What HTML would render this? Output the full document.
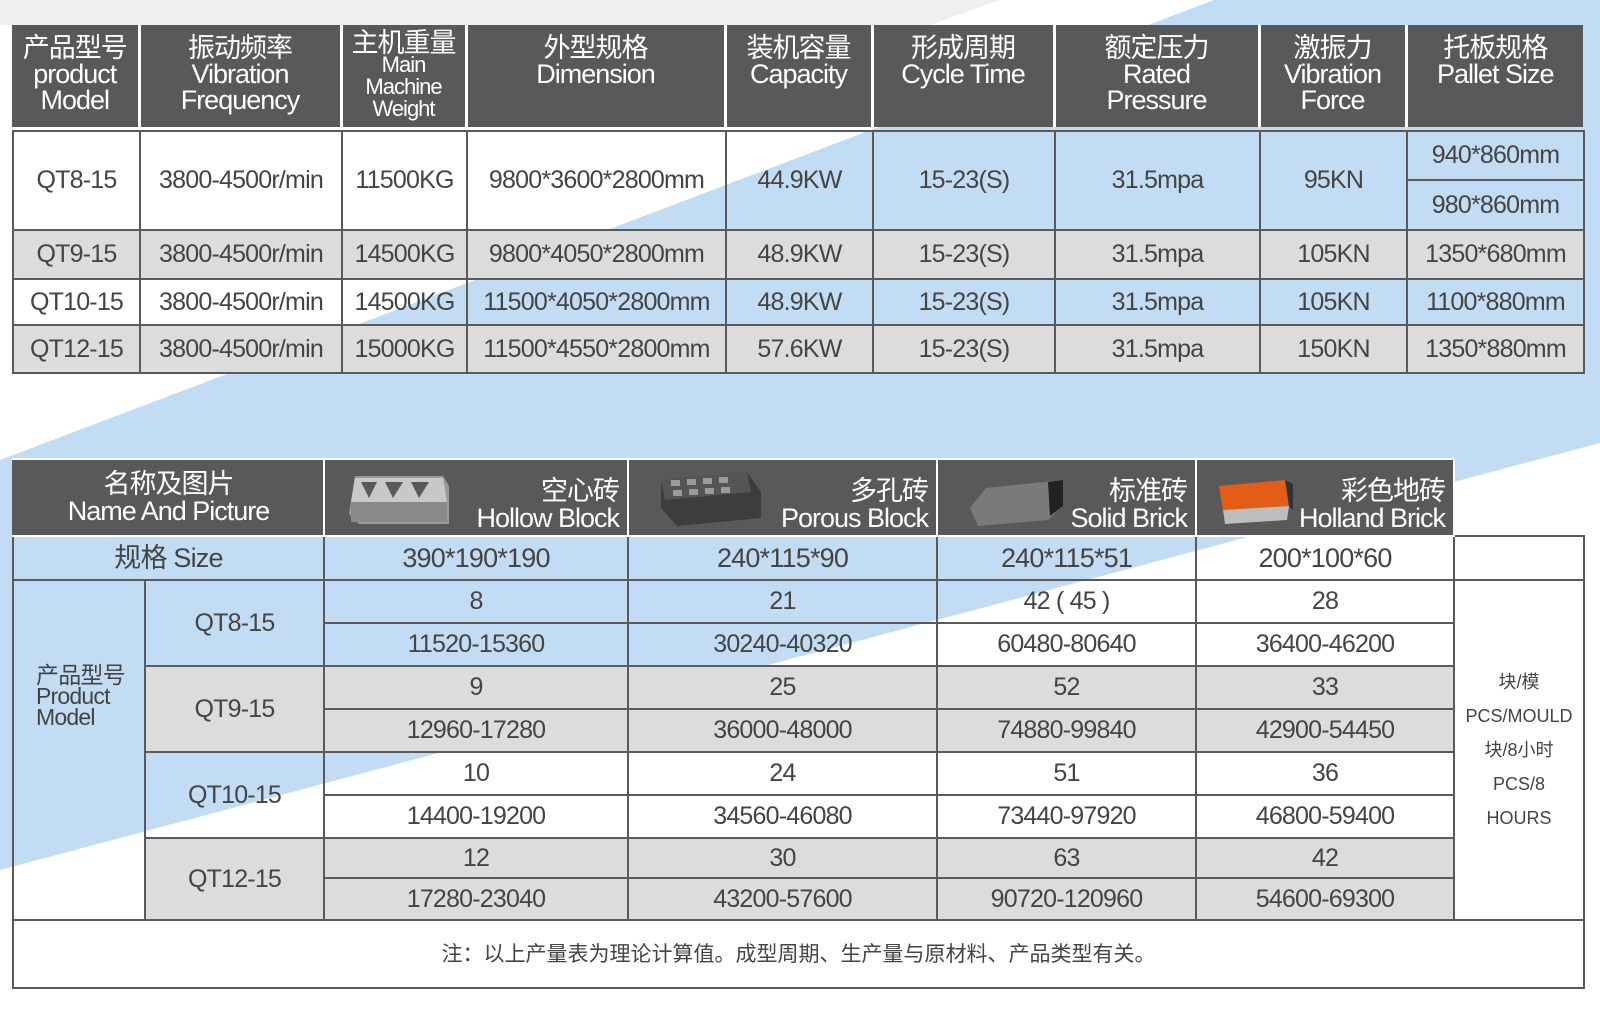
<!DOCTYPE html>
<html><head><meta charset="utf-8">
<style>
*{margin:0;padding:0;box-sizing:border-box}
body{width:1600px;height:1012px;position:relative;overflow:hidden;background:#fff;font-family:"Liberation Sans","Noto Sans CJK SC",sans-serif;color:#444}
svg.bg{position:absolute;left:0;top:0}
table{position:absolute;border-collapse:collapse;table-layout:fixed}
td{border:2px solid #5a5a5a;text-align:center;vertical-align:middle;font-size:25px;line-height:1;white-space:nowrap;overflow:hidden;letter-spacing:-0.8px}
.h td{background:#59595b;color:#fff;font-size:27px;line-height:26px;vertical-align:top;padding-top:10px;border-color:#fff;border-width:0 3px;letter-spacing:-1px}
.g{background:#dcdcdc}
.bh td{background:#59595b;color:#fff;border:2px solid #fff;position:relative;font-size:27px;line-height:27px;letter-spacing:-1px}
.bh td.ic{text-align:right;padding-right:8px;vertical-align:bottom;padding-bottom:3px}
.unit{font-size:18px;line-height:34px;letter-spacing:0;color:#444}
</style></head><body>
<svg class="bg" width="1600" height="1012">
<rect width="1600" height="1012" fill="#fff"/>
<polygon points="0,0 1000,0 930,25 0,25" fill="#efefef"/>
<polygon points="1214,0 1600,0 1600,443 0,870 0,460" fill="#c2ddf3"/>
</svg>

<table class="h" style="left:12px;top:25px;width:1571px;height:102px">
<colgroup><col style="width:127px"><col style="width:202px"><col style="width:125px"><col style="width:259px"><col style="width:147px"><col style="width:182px"><col style="width:205px"><col style="width:147px"><col style="width:177px"></colgroup>
<tr>
<td style="border-left:0">产品型号<br>product<br>Model</td>
<td>振动频率<br>Vibration<br>Frequency</td>
<td style="line-height:20px;padding-top:8px">主机重量<br><span style="font-size:22px">Main<br>Machine<br>Weight</span></td>
<td>外型规格<br>Dimension</td>
<td>装机容量<br>Capacity</td>
<td>形成周期<br>Cycle Time</td>
<td>额定压力<br>Rated<br>Pressure</td>
<td>激振力<br>Vibration<br>Force</td>
<td style="border-right:0">托板规格<br>Pallet Size</td>
</tr></table>

<table style="left:12px;top:130px;width:1571px">
<colgroup><col style="width:127px"><col style="width:202px"><col style="width:125px"><col style="width:259px"><col style="width:147px"><col style="width:182px"><col style="width:205px"><col style="width:147px"><col style="width:177px"></colgroup>
<tr style="height:49px"><td rowspan="2">QT8-15</td><td rowspan="2">3800-4500r/min</td><td rowspan="2">11500KG</td><td rowspan="2">9800*3600*2800mm</td><td rowspan="2">44.9KW</td><td rowspan="2">15-23(S)</td><td rowspan="2">31.5mpa</td><td rowspan="2">95KN</td><td>940*860mm</td></tr>
<tr style="height:50px"><td>980*860mm</td></tr>
<tr style="height:49px" class="g"><td>QT9-15</td><td>3800-4500r/min</td><td>14500KG</td><td>9800*4050*2800mm</td><td>48.9KW</td><td>15-23(S)</td><td>31.5mpa</td><td>105KN</td><td>1350*680mm</td></tr>
<tr style="height:46px"><td>QT10-15</td><td>3800-4500r/min</td><td>14500KG</td><td>11500*4050*2800mm</td><td>48.9KW</td><td>15-23(S)</td><td>31.5mpa</td><td>105KN</td><td>1100*880mm</td></tr>
<tr style="height:48px" class="g"><td>QT12-15</td><td>3800-4500r/min</td><td>15000KG</td><td>11500*4550*2800mm</td><td>57.6KW</td><td>15-23(S)</td><td>31.5mpa</td><td>150KN</td><td>1350*880mm</td></tr>
</table>

<table style="left:12px;top:458px;width:1571px">
<colgroup><col style="width:132px"><col style="width:179px"><col style="width:304px"><col style="width:309px"><col style="width:259px"><col style="width:258px"><col style="width:130px"></colgroup>
<tr class="bh" style="height:77px">
<td colspan="2" style="border-left:2px solid #5a5a5a">名称及图片<br>Name And Picture</td>
<td class="ic"><svg style="position:absolute;left:22px;top:14px" width="105" height="55"><polygon points="8,2 96,2 102,12 102,50 12,50 2,40" fill="#9a9a9a"/><polygon points="8,4 96,4 100,28 4,28" fill="#c8c8c8"/><polygon points="14,8 30,8 22,24" fill="#59595b"/><polygon points="38,8 56,8 46,24" fill="#59595b"/><polygon points="64,8 82,8 72,24" fill="#59595b"/><rect x="4" y="28" width="96" height="20" fill="#8a8a8a"/></svg>空心砖<br>Hollow Block</td>
<td class="ic"><svg style="position:absolute;left:30px;top:10px" width="105" height="58"><polygon points="2,10 88,2 102,22 102,48 18,56 2,38" fill="#3d3d3d"/><polygon points="2,10 88,2 92,22 6,30" fill="#555"/><g fill="#9a9a9a"><rect x="12" y="10" width="9" height="6"/><rect x="28" y="9" width="9" height="6"/><rect x="44" y="8" width="9" height="6"/><rect x="60" y="7" width="9" height="6"/><rect x="14" y="20" width="9" height="6"/><rect x="30" y="19" width="9" height="6"/><rect x="46" y="18" width="9" height="6"/><rect x="62" y="17" width="9" height="6"/></g></svg>多孔砖<br>Porous Block</td>
<td class="ic"><svg style="position:absolute;left:30px;top:18px" width="105" height="50"><polygon points="2,30 18,10 95,2 95,28 80,42 10,48" fill="#7a7a7a"/><polygon points="80,4 95,2 95,28 82,38" fill="#222"/></svg>标准砖<br>Solid Brick</td>
<td class="ic"><svg style="position:absolute;left:18px;top:16px" width="80" height="50"><polygon points="4,10 70,4 74,30 8,34" fill="#e35d17"/><polygon points="8,34 74,30 72,44 10,48" fill="#bdbdbd"/><polygon points="70,4 78,8 78,34 74,30" fill="#333"/></svg>彩色地砖<br>Holland Brick</td>
<td style="background:transparent;border:0"></td>
</tr>
<tr style="height:44px"><td colspan="2" style="font-size:27px">规格 Size</td><td style="font-size:27px">390*190*190</td><td style="font-size:27px">240*115*90</td><td style="font-size:27px">240*115*51</td><td style="font-size:27px">200*100*60</td><td style="border-right:2px solid #5a5a5a"></td></tr>
<tr style="height:43px"><td rowspan="8" style="font-size:23px;line-height:21px;text-align:left;padding-left:22px;vertical-align:top;padding-top:84px">产品型号<br>Product<br>Model</td><td rowspan="2">QT8-15</td><td>8</td><td>21</td><td>42 ( 45 )</td><td>28</td><td rowspan="8" class="unit" style="border-right:2px solid #5a5a5a">块/模<br>PCS/MOULD<br>块/8小时<br>PCS/8<br>HOURS</td></tr>
<tr style="height:43px"><td>11520-15360</td><td>30240-40320</td><td>60480-80640</td><td>36400-46200</td></tr>
<tr style="height:43px" class="g"><td rowspan="2">QT9-15</td><td>9</td><td>25</td><td>52</td><td>33</td></tr>
<tr style="height:43px" class="g"><td>12960-17280</td><td>36000-48000</td><td>74880-99840</td><td>42900-54450</td></tr>
<tr style="height:43px"><td rowspan="2">QT10-15</td><td>10</td><td>24</td><td>51</td><td>36</td></tr>
<tr style="height:43px"><td>14400-19200</td><td>34560-46080</td><td>73440-97920</td><td>46800-59400</td></tr>
<tr style="height:40px" class="g"><td rowspan="2">QT12-15</td><td>12</td><td>30</td><td>63</td><td>42</td></tr>
<tr style="height:42px" class="g"><td>17280-23040</td><td>43200-57600</td><td>90720-120960</td><td>54600-69300</td></tr>
<tr style="height:68px"><td colspan="7" style="background:#fff;font-size:21px;letter-spacing:0;border-right:2px solid #5a5a5a">注：以上产量表为理论计算值。成型周期、生产量与原材料、产品类型有关。</td></tr>
</table>
</body></html>
